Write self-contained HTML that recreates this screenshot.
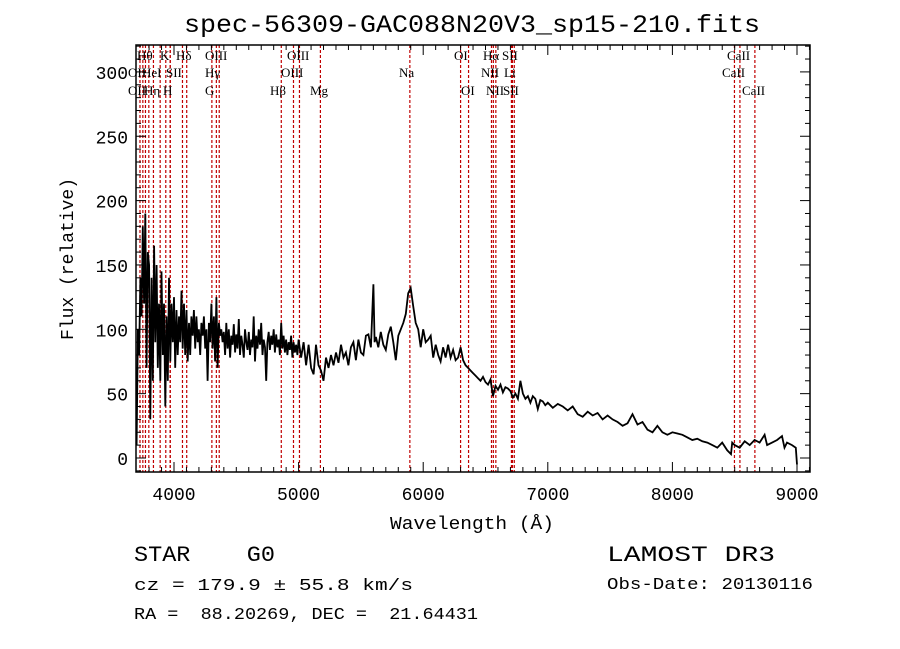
<!DOCTYPE html>
<html><head><meta charset="utf-8">
<style>
body{margin:0;background:#fff;}
svg{display:block;}
text{font-family:"Liberation Mono","DejaVu Sans Mono",monospace;fill:#000;}
.lab{font-family:"Liberation Serif",serif;font-size:13px;}
</style></head>
<body>
<svg id="chart" width="900" height="649" viewBox="0 0 900 649">
<rect width="900" height="649" fill="#fff"/>
<text x="184" y="32" font-size="25" textLength="576" lengthAdjust="spacingAndGlyphs">spec-56309-GAC088N20V3_sp15-210.fits</text>
<g id="lines"></g>
<g id="series"></g>
<g id="axes"></g>
<text x="390" y="529" font-size="18" textLength="164" lengthAdjust="spacingAndGlyphs">Wavelength (Å)</text>
<text x="0" y="0" font-size="18" text-anchor="middle" transform="translate(73,259) rotate(-90)">Flux (relative)</text>
<text x="134" y="561" font-size="22" xml:space="preserve" textLength="141" lengthAdjust="spacingAndGlyphs">STAR    G0</text>
<text x="134" y="590" font-size="17" textLength="279" lengthAdjust="spacingAndGlyphs">cz = 179.9 ± 55.8 km/s</text>
<text x="134" y="619" font-size="17" xml:space="preserve" textLength="344" lengthAdjust="spacingAndGlyphs">RA =  88.20269, DEC =  21.64431</text>
<text x="607" y="561" font-size="22" textLength="168" lengthAdjust="spacingAndGlyphs">LAMOST DR3</text>
<text x="607" y="589" font-size="17" textLength="206" lengthAdjust="spacingAndGlyphs">Obs-Date: 20130116</text>
</svg>
<script>
const waves=[3700,3710,3720,3730,3740,3750,3760,3770,3780,3790,3800,3810,3820,3830,3840,3850,3860,3870,3880,3890,3900,3910,3920,3930,3940,3950,3960,3970,3980,3990,4000,4010,4020,4030,4040,4050,4060,4070,4080,4090,4100,4110,4120,4130,4140,4150,4160,4170,4180,4190,4200,4210,4220,4230,4240,4250,4260,4270,4280,4290,4300,4310,4320,4330,4340,4350,4360,4370,4380,4390,4400,4410,4420,4430,4440,4450,4460,4470,4480,4490,4500,4510,4520,4530,4540,4550,4560,4570,4580,4590,4600,4610,4620,4630,4640,4650,4660,4670,4680,4690,4700,4710,4720,4730,4740,4750,4760,4770,4780,4790,4800,4810,4820,4830,4840,4850,4860,4870,4880,4890,4900,4910,4920,4930,4940,4950,4960,4970,4980,4990,5000,5020,5040,5060,5080,5100,5120,5140,5160,5180,5200,5220,5240,5260,5280,5300,5320,5340,5360,5380,5400,5420,5440,5460,5480,5500,5520,5540,5560,5580,5600,5610,5620,5640,5660,5680,5700,5720,5740,5760,5780,5800,5820,5840,5860,5880,5900,5920,5940,5960,5980,6000,6020,6040,6060,6080,6100,6120,6140,6160,6180,6200,6220,6240,6260,6280,6300,6320,6340,6360,6380,6400,6420,6440,6460,6480,6500,6520,6540,6560,6580,6600,6620,6640,6660,6680,6700,6720,6740,6760,6780,6800,6820,6840,6860,6880,6900,6920,6940,6960,6980,7000,7040,7080,7120,7160,7200,7240,7280,7320,7360,7400,7440,7480,7520,7560,7600,7640,7680,7720,7760,7800,7840,7880,7920,7960,8000,8040,8080,8120,8160,8200,8240,8280,8320,8360,8400,8440,8470,8480,8500,8540,8580,8620,8660,8700,8740,8760,8800,8840,8880,8900,8920,8960,8990,9000];
const fluxes=[10,100,80,140,110,180,120,190,70,160,150,30,140,60,165,90,150,70,120,60,145,80,120,40,110,60,140,75,120,90,125,70,115,80,110,90,130,85,120,80,115,75,105,80,110,95,115,85,110,90,100,80,105,95,110,85,100,60,105,90,120,85,110,75,125,70,105,95,100,90,98,80,105,85,100,78,95,88,104,82,96,85,108,80,95,88,78,100,90,84,98,80,92,86,110,75,95,85,100,88,105,80,92,86,60,90,98,84,95,88,100,82,96,86,92,80,105,85,95,82,92,80,90,84,95,78,90,82,88,80,92,78,90,72,88,70,65,88,72,68,60,78,70,80,72,82,74,88,78,82,72,86,90,76,92,82,80,95,96,86,135,90,94,86,98,88,84,96,102,90,76,95,100,105,112,128,132,118,105,100,86,100,90,92,95,78,88,80,75,86,78,88,78,84,76,78,86,76,72,70,68,66,64,62,60,63,59,57,61,48,56,53,57,51,55,54,52,47,50,46,60,50,46,48,43,48,46,38,45,44,41,43,39,42,40,37,40,34,32,36,33,35,30,33,30,28,25,27,34,26,28,22,20,25,20,18,20,19,18,16,14,15,13,12,10,8,12,6,3,12,10,8,13,10,14,12,18,10,12,14,17,8,12,10,8,-5];
const lineWaves=[3727,3750,3771,3798,3835,3889,3934,3970,3969,4068,4102,4304,4340,4363,4861,4959,5007,5175,5893,6300,6364,6548,6563,6583,6708,6716,6731,8498,8542,8662];
const xTickLabels=["4000","5000","6000","7000","8000","9000"];
const yTickLabels=["0","50","100","150","200","250","300"];
const labelTexts=[["Hθ",137,60],["K",160,60],["Hδ",176,60],["OIII",205,60],["OIII",287,60],["OI",454,60],["Hα",483,60],["SII",502,60],["CaII",727,60],
 ["OII",128,77],["HeI",142,77],["SII",166,77],["Hγ",205,77],["OIII",281,77],["NII",481,77],["Li",504,77],["CaII",722,77],
 ["OII",128,95],["Hη",144,95],["H",163,95],["G",205,95],["Hβ",270,95],["Mg",310,95],["Na",399,77],["OI",461,95],["NII",486,95],["SII",503,95],["CaII",742,95]];
const X0=136,X1=810,Y0=45,Y1=472;
const xs=w=>174+(w-4000)*0.1246;
const ys=f=>458-f*1.287;
const NS="http://www.w3.org/2000/svg";
function mk(tag,attrs,parent){const e=document.createElementNS(NS,tag);for(const k in attrs)e.setAttribute(k,attrs[k]);parent.appendChild(e);return e;}
const lg=document.getElementById('lines');
lineWaves.forEach(w=>{
 const l=mk('line',{x1:xs(w),x2:xs(w),y1:Y0,y2:Y1,stroke:'#c00000','stroke-width':1.2,'stroke-dasharray':'3,2'},lg);
 
 
});
labelTexts.forEach(t=>{
 const e=mk('text',{x:t[1],y:t[2],class:'lab'},lg);e.textContent=t[0];
 
 
});
const sg=document.getElementById('series');
let pts=[];
for(let i=0;i<waves.length;i++){const x=xs(waves[i]);pts.push(x.toFixed(1)+','+Math.min(Math.max(ys(fluxes[i]),Y0),Y1).toFixed(1));}
const pl=mk('polyline',{points:pts.join(' '),fill:'none',stroke:'#000','stroke-width':1.8,'stroke-linejoin':'miter'},sg);


const ag=document.getElementById('axes');
const fr=mk('rect',{x:X0,y:Y0,width:X1-X0,height:Y1-Y0,fill:'none',stroke:'#000','stroke-width':1.5},ag);


for(let w=3800;w<=9100;w+=100){const x=xs(w);const major=w%1000===0;const L=major?10:5;
 mk('line',{x1:x,x2:x,y1:Y1,y2:Y1-L,stroke:'#000'},ag);mk('line',{x1:x,x2:x,y1:Y0,y2:Y0+L,stroke:'#000'},ag);}
xTickLabels.forEach(s=>{const t=mk('text',{x:xs(+s),y:500,'font-size':18,'text-anchor':'middle'},ag);t.textContent=s;
 
 });
for(let f=-10;f<=320;f+=10){const y=ys(f);if(y<Y0||y>Y1)continue;const major=f%50===0;const L=major?10:5;
 mk('line',{x1:X0,x2:X0+L,y1:y,y2:y,stroke:'#000'},ag);mk('line',{x1:X1,x2:X1-L,y1:y,y2:y,stroke:'#000'},ag);}
yTickLabels.forEach(s=>{const t=mk('text',{x:128,y:ys(+s)+7,'font-size':18,'text-anchor':'end'},ag);t.textContent=s;
 
 });
</script>
</body></html>
